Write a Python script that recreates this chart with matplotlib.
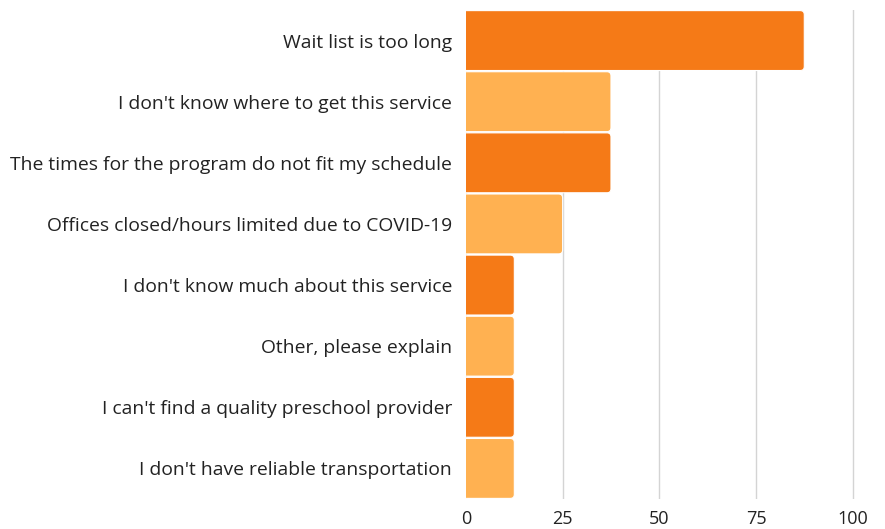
import numpy as np
import matplotlib.pyplot as plt
from matplotlib.patches import FancyBboxPatch

reasons = ["Wait list is too long",
           "I don't know where to get this service",
           "The times for the program do not fit my schedule",
           "Offices closed/hours limited due to COVID-19",
           "I don't know much about this service",
           "Other, please explain",
           "I can't find a quality preschool provider",
           "I don't have reliable transportation"]
percent = [87.5, 37.5, 37.5, 25, 12.5, 12.5, 12.5, 12.5]
xticks = [0, 25, 50, 75, 100]

dark = "#F57A17"
light = "#FFB151"
colors = [dark if i % 2 == 0 else light for i in range(len(reasons))]

plt.rcParams['font.family'] = ['Open Sans', 'DejaVu Sans']

fig = plt.figure(figsize=(8.85, 5.29), dpi=100)
ax = fig.add_axes([466/885, 30/529, 404/885, 489/529])

y = np.arange(len(reasons))
bars = ax.barh(y, percent, height=1.0, color=colors)
ax.set_xlim(0, 104.5)
ax.set_ylim(len(reasons) - 0.5, -0.5)

# swap the plain bars for ones with rounded right corners
px_x = 404 / 104.5
px_y = 489 / 8.0
r = 4.0 / px_x
for b, c in zip(bars, colors):
    x0, y0 = b.get_x(), b.get_y()
    w, h = b.get_width(), b.get_height()
    b.set_visible(False)
    p = FancyBboxPatch((x0 - 3 * r, y0 + 0.01), w + 3 * r, h - 0.02,
                       boxstyle="round,pad=0,rounding_size=%f" % r,
                       mutation_aspect=px_x / px_y,
                       facecolor=c, edgecolor='white', linewidth=0.8,
                       zorder=3)
    ax.add_patch(p)

ax.set_xticks(xticks)
ax.set_yticks(y)
ax.set_yticklabels(reasons, fontsize=13.9, color='#222222')
ax.tick_params(axis='x', labelsize=13, length=0, pad=8, colors='#222222')
ax.tick_params(axis='y', length=0, pad=10)
ax.grid(axis='x', color='#d4d4d4', linewidth=1.0, zorder=0)
ax.set_axisbelow(True)
for s in ax.spines.values():
    s.set_visible(False)

fig.savefig("out.png", dpi=100)
